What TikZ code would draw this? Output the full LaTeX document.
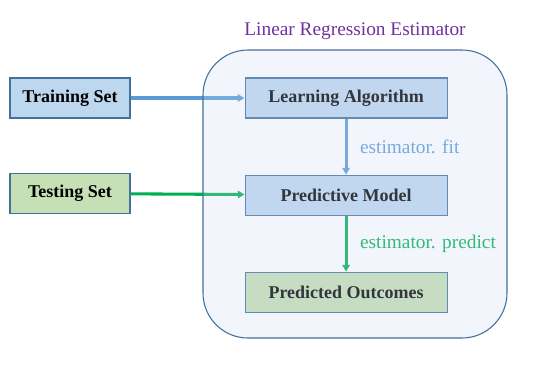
\documentclass[tikz,border=0pt]{standalone}
\usepackage{fontspec}
\setmainfont{LiberationSerif}[Extension=.ttf,UprightFont=*-Regular,BoldFont=*-Bold,ItalicFont=*-Italic,BoldItalicFont=*-BoldItalic]
\usetikzlibrary{arrows.meta,positioning}
\definecolor{setblue}{RGB}{189,215,238}
\definecolor{setgreen}{RGB}{197,224,180}
\definecolor{edgeblue}{RGB}{65,113,156}
\definecolor{fitblue}{RGB}{91,155,213}
\definecolor{predgreen}{RGB}{0,176,80}
\definecolor{veil}{RGB}{203,215,243}
\definecolor{titlepurple}{RGB}{112,48,160}

\begin{document}
\begin{tikzpicture}[x=0.75pt,y=-0.75pt,>={Triangle[length=5pt,width=5.5pt]},
 node distance=42pt and 85.5pt,
 n/.style={draw=edgeblue,line width=0.8pt,minimum height=30pt,align=center,font=\fontsize{13.5}{16}\selectfont\bfseries},
 a/.style={->,line width=2.3pt},
 lbl/.style={font=\fontsize{14.5}{17}\selectfont}]
\useasboundingbox (0,0) rectangle (557,387);
\node[n,fill=setblue,minimum width=90pt] (train) at (70,98) {Training Set};
\node[n,fill=setgreen,minimum width=90pt] (test) at (70,193.5) {Testing Set};
\node[n,fill=setblue,minimum width=151.5pt,right=of train] (learn) {Learning Algorithm};
\node[n,fill=setblue,minimum width=151.5pt,below=of learn] (model) {Predictive Model};
\node[n,fill=setgreen,minimum width=151.5pt,below=of model] (outc) {Predicted Outcomes};
\draw[a,fitblue] (train)--(learn); \draw[a,predgreen] (test)--(model);
\draw[a,fitblue] (learn)--(model) node[lbl,midway,right=6pt,text=fitblue] (fitlbl) {estimator. fit};
\draw[a,predgreen] (model)--(outc) node[lbl,midway,right=6pt,text=predgreen] (predlbl) {estimator. predict};
% estimator box goes over the inner parts
\node[draw=edgeblue,line width=0.8pt,fill=veil,fill opacity=0.25,rounded corners=33.75pt,inner sep=0pt,
 minimum width=228pt,minimum height=216pt] (est) at (355,194) {};
\node[lbl,text=titlepurple,above=4pt of est] (title) {Linear Regression Estimator};
\end{tikzpicture}
\end{document}
